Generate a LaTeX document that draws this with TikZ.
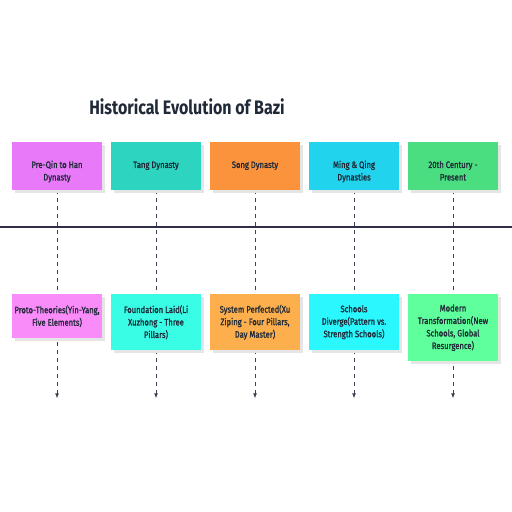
\documentclass[tikz,border=0pt]{standalone}
\usepackage{fontspec}
\setmainfont{Fira Sans}[FakeStretch=0.82]
\newfontfamily\boxfont{Fira Sans}[FakeStretch=0.82,FakeBold=1.2]
\usetikzlibrary{arrows.meta,shadows,backgrounds}
\definecolor{txt}{HTML}{1F2937}
\definecolor{axis}{HTML}{2E2E48}
\definecolor{dash}{HTML}{3F3F52}
\definecolor{cA}{HTML}{E879F9}
\definecolor{cB}{HTML}{2DD4BF}
\definecolor{cC}{HTML}{FB923C}
\definecolor{cD}{HTML}{22D3EE}
\definecolor{cE}{HTML}{4ADE80}
\definecolor{dA}{HTML}{FA8CFA}
\definecolor{dB}{HTML}{3AFDE6}
\definecolor{dC}{HTML}{FCAF4C}
\definecolor{dD}{HTML}{2AF8FE}
\definecolor{dE}{HTML}{5FFF9B}
\newcommand\toptext[1]{\parbox[c][48pt][t]{90pt}{\vspace*{17pt}\centering\strut #1\par}}
\tikzset{
  boxbase/.style={draw=none, anchor=north, minimum width=90pt,
    inner xsep=0pt, align=center, font=\boxfont\fontsize{9.3pt}{12.5pt}\selectfont, text=txt,
    drop shadow={shadow xshift=3pt, shadow yshift=-3pt, fill=black!10, opacity=1}},
  era/.style={boxbase, minimum height=48pt, inner ysep=0pt},
  event/.style={boxbase, minimum height=#1},
  flow/.style={draw=dash, line width=1pt, dash pattern=on 4pt off 4pt, -{Latex[length=5pt,width=4pt]}},
}
\begin{document}
\begin{tikzpicture}[x=1pt,y=-1pt]
\useasboundingbox (0,0) rectangle (512,512);
\node[font=\bfseries\fontsize{19.5pt}{22pt}\selectfont, text=txt] (title) at (187,107) {Historical Evolution of Bazi};
\node[era, fill=cA] (t1) at (57,142) {\toptext{Pre-Qin to Han\\Dynasty}};
\node[era, fill=cB] (t2) at (156,142) {\toptext{Tang Dynasty}};
\node[era, fill=cC] (t3) at (255,142) {\toptext{Song Dynasty}};
\node[era, fill=cD] (t4) at (354,142) {\toptext{Ming \& Qing\\Dynasties}};
\node[era, fill=cE] (t5) at (453,142) {\toptext{20th Century -\\Present}};
\node[event=44pt, fill=dA] (b1) at (57,294) {Proto-Theories(Yin-Yang,\\Five Elements)};
\node[event=56pt, fill=dB] (b2) at (156,294) {Foundation Laid(Li\\Xuzhong - Three\\Pillars)};
\node[event=56pt, fill=dC] (b3) at (255,294) {System Perfected(Xu\\Ziping - Four Pillars,\\Day Master)};
\node[event=56pt, fill=dD] (b4) at (354,294) {Schools\\Diverge(Pattern vs.\\Strength Schools)};
\node[event=67pt, fill=dE] (b5) at (453,294) {Modern\\Transformation(New\\Schools, Global\\Resurgence)};
\coordinate (L) at (0,227);
\coordinate (R) at (512,227);
\foreach \i in {1,...,5}{
  \path (t\i.south) ++(0,208) coordinate (e\i);
}
\begin{scope}[on background layer]
\draw[axis, line width=1.3pt] (L) -- (R);
\foreach \i in {1,...,5}{
  \draw[flow] (t\i.south) -- (e\i);
}
\end{scope}
\end{tikzpicture}
\end{document}
